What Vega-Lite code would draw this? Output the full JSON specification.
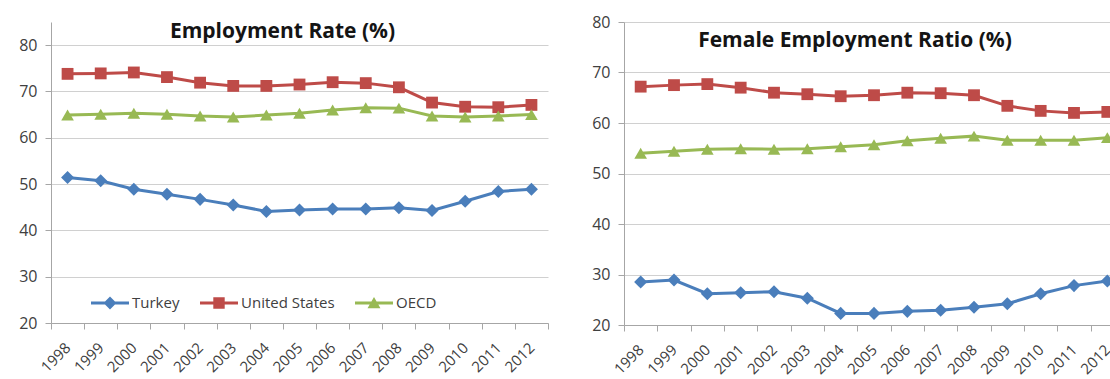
{
  "$schema": "https://vega.github.io/schema/vega-lite/v6.json",
  "background": "white",
  "padding": {"left": 18, "top": 14, "right": 0, "bottom": 0},
  "bounds": "flush",
  "spacing": 76,
  "config": {
    "view": {"stroke": null},
    "font": "Open Sans",
    "axisX": {
      "domainColor": "#a6a6a6", "tickColor": "#a6a6a6", "tickSize": 6, "tickBand": "extent",
      "labelAngle": -45, "labelAlign": "right", "labelBaseline": "middle", "labelPadding": 16,
      "labelFontSize": 15, "labelColor": "#404040", "labelFont": "Open Sans", "grid": false, "labelOverlap": false
    },
    "axisY": {
      "domainColor": "#a6a6a6", "tickColor": "#a6a6a6", "tickSize": 6, "gridColor": "#d0d0d0",
      "labelFontSize": 16, "labelColor": "#404040", "labelFont": "Open Sans", "labelPadding": 8
    },
    "legend": {
      "orient": "none", "legendX": 40, "legendY": 262, "direction": "horizontal",
      "padding": 0, "symbolSize": 1444, "symbolStrokeWidth": 0, "symbolOpacity": 1, "labelOffset": 3, "columnPadding": 20,
      "labelFont": "Open Sans", "labelFontSize": 15, "labelColor": "#404040"
    }
  },
  "resolve": {"scale": {"color": "independent", "shape": "independent"}},
  "datasets": {
    "employment": [
      {"year": "1998", "country": "Turkey", "rate": 51.4}, {"year": "1999", "country": "Turkey", "rate": 50.7},
      {"year": "2000", "country": "Turkey", "rate": 48.9}, {"year": "2001", "country": "Turkey", "rate": 47.8},
      {"year": "2002", "country": "Turkey", "rate": 46.7}, {"year": "2003", "country": "Turkey", "rate": 45.5},
      {"year": "2004", "country": "Turkey", "rate": 44.1}, {"year": "2005", "country": "Turkey", "rate": 44.4},
      {"year": "2006", "country": "Turkey", "rate": 44.6}, {"year": "2007", "country": "Turkey", "rate": 44.6},
      {"year": "2008", "country": "Turkey", "rate": 44.9}, {"year": "2009", "country": "Turkey", "rate": 44.3},
      {"year": "2010", "country": "Turkey", "rate": 46.3}, {"year": "2011", "country": "Turkey", "rate": 48.4},
      {"year": "2012", "country": "Turkey", "rate": 48.9},
      {"year": "1998", "country": "United States", "rate": 73.8}, {"year": "1999", "country": "United States", "rate": 73.9},
      {"year": "2000", "country": "United States", "rate": 74.1}, {"year": "2001", "country": "United States", "rate": 73.1},
      {"year": "2002", "country": "United States", "rate": 71.9}, {"year": "2003", "country": "United States", "rate": 71.2},
      {"year": "2004", "country": "United States", "rate": 71.2}, {"year": "2005", "country": "United States", "rate": 71.5},
      {"year": "2006", "country": "United States", "rate": 72.0}, {"year": "2007", "country": "United States", "rate": 71.8},
      {"year": "2008", "country": "United States", "rate": 70.9}, {"year": "2009", "country": "United States", "rate": 67.6},
      {"year": "2010", "country": "United States", "rate": 66.7}, {"year": "2011", "country": "United States", "rate": 66.6},
      {"year": "2012", "country": "United States", "rate": 67.1},
      {"year": "1998", "country": "OECD", "rate": 64.9}, {"year": "1999", "country": "OECD", "rate": 65.1},
      {"year": "2000", "country": "OECD", "rate": 65.3}, {"year": "2001", "country": "OECD", "rate": 65.1},
      {"year": "2002", "country": "OECD", "rate": 64.7}, {"year": "2003", "country": "OECD", "rate": 64.5},
      {"year": "2004", "country": "OECD", "rate": 64.9}, {"year": "2005", "country": "OECD", "rate": 65.3},
      {"year": "2006", "country": "OECD", "rate": 66.0}, {"year": "2007", "country": "OECD", "rate": 66.5},
      {"year": "2008", "country": "OECD", "rate": 66.4}, {"year": "2009", "country": "OECD", "rate": 64.7},
      {"year": "2010", "country": "OECD", "rate": 64.5}, {"year": "2011", "country": "OECD", "rate": 64.7},
      {"year": "2012", "country": "OECD", "rate": 65.0}
    ],
    "female": [
      {"year": "1998", "country": "Turkey", "rate": 28.5}, {"year": "1999", "country": "Turkey", "rate": 28.9},
      {"year": "2000", "country": "Turkey", "rate": 26.2}, {"year": "2001", "country": "Turkey", "rate": 26.4},
      {"year": "2002", "country": "Turkey", "rate": 26.6}, {"year": "2003", "country": "Turkey", "rate": 25.3},
      {"year": "2004", "country": "Turkey", "rate": 22.3}, {"year": "2005", "country": "Turkey", "rate": 22.3},
      {"year": "2006", "country": "Turkey", "rate": 22.7}, {"year": "2007", "country": "Turkey", "rate": 22.9},
      {"year": "2008", "country": "Turkey", "rate": 23.5}, {"year": "2009", "country": "Turkey", "rate": 24.2},
      {"year": "2010", "country": "Turkey", "rate": 26.2}, {"year": "2011", "country": "Turkey", "rate": 27.8},
      {"year": "2012", "country": "Turkey", "rate": 28.7},
      {"year": "1998", "country": "United States", "rate": 67.2}, {"year": "1999", "country": "United States", "rate": 67.5},
      {"year": "2000", "country": "United States", "rate": 67.7}, {"year": "2001", "country": "United States", "rate": 67.0},
      {"year": "2002", "country": "United States", "rate": 66.0}, {"year": "2003", "country": "United States", "rate": 65.7},
      {"year": "2004", "country": "United States", "rate": 65.3}, {"year": "2005", "country": "United States", "rate": 65.5},
      {"year": "2006", "country": "United States", "rate": 66.0}, {"year": "2007", "country": "United States", "rate": 65.9},
      {"year": "2008", "country": "United States", "rate": 65.5}, {"year": "2009", "country": "United States", "rate": 63.4},
      {"year": "2010", "country": "United States", "rate": 62.4}, {"year": "2011", "country": "United States", "rate": 62.0},
      {"year": "2012", "country": "United States", "rate": 62.2},
      {"year": "1998", "country": "OECD", "rate": 54.0}, {"year": "1999", "country": "OECD", "rate": 54.4},
      {"year": "2000", "country": "OECD", "rate": 54.8}, {"year": "2001", "country": "OECD", "rate": 54.9},
      {"year": "2002", "country": "OECD", "rate": 54.8}, {"year": "2003", "country": "OECD", "rate": 54.9},
      {"year": "2004", "country": "OECD", "rate": 55.3}, {"year": "2005", "country": "OECD", "rate": 55.7},
      {"year": "2006", "country": "OECD", "rate": 56.5}, {"year": "2007", "country": "OECD", "rate": 57.0},
      {"year": "2008", "country": "OECD", "rate": 57.4}, {"year": "2009", "country": "OECD", "rate": 56.6},
      {"year": "2010", "country": "OECD", "rate": 56.6}, {"year": "2011", "country": "OECD", "rate": 56.6},
      {"year": "2012", "country": "OECD", "rate": 57.1}
    ]
  },
  "hconcat": [
    {
      "width": 497,
      "height": 301,
      "title": {
        "text": "Employment Rate (%)", "font": "Open Sans", "fontSize": 21, "fontWeight": "bold", "color": "#141414",
        "anchor": "middle", "frame": "group", "orient": "top", "baseline": "alphabetic", "offset": -17, "dx": -17, "dy": 20
      },
      "data": {"name": "employment"},
      "encoding": {
        "x": {"field": "year", "type": "ordinal", "scale": {"type": "band", "paddingInner": 0, "paddingOuter": 0}, "axis": {"title": null}},
        "y": {"field": "rate", "type": "quantitative", "scale": {"domain": [20, 85], "nice": false, "zero": false}, "axis": {"title": null, "values": [20, 30, 40, 50, 60, 70, 80]}},
        "color": {"field": "country", "type": "nominal", "scale": {"domain": ["Turkey", "United States", "OECD"], "range": ["#4a7ebb", "#be4b48", "#98b954"]}, "legend": {"title": null}}
      },
      "layer": [
        {"mark": {"type": "line", "strokeWidth": 3}},
        {"transform": [{"filter": {"field": "country", "equal": "Turkey"}}], "mark": {"type": "point", "filled": true, "opacity": 1, "shape": "diamond", "size": 170}},
        {"transform": [{"filter": {"field": "country", "equal": "United States"}}], "mark": {"type": "point", "filled": true, "opacity": 1, "shape": "square", "size": 140}},
        {"transform": [{"filter": {"field": "country", "equal": "OECD"}}], "mark": {"type": "point", "filled": true, "opacity": 1, "shape": "triangle-up", "size": 160}},
        {
          "mark": {"type": "point", "filled": true, "opacity": 0, "size": 1444, "clip": true},
          "encoding": {
            "shape": {
              "field": "country", "type": "nominal",
              "scale": {
                "domain": ["Turkey", "United States", "OECD"],
                "range": [
                  "M-1,-0.08H1V0.08H-1ZM0,-0.34L0.34,0L0,0.34L-0.34,0Z",
                  "M-1,-0.08H1V0.08H-1ZM-0.3,-0.3H0.3V0.3H-0.3Z",
                  "M-1,-0.08H1V0.08H-1ZM0,-0.31L0.34,0.27H-0.34Z"
                ]
              },
              "legend": {"title": null}
            }
          }
        }
      ]
    },
    {
      "width": 500,
      "height": 303,
      "title": {
        "text": "Female Employment Ratio (%)", "font": "Open Sans", "fontSize": 21, "fontWeight": "bold", "color": "#141414",
        "anchor": "middle", "frame": "group", "orient": "top", "baseline": "alphabetic", "offset": -27, "dx": -19, "dy": 27
      },
      "data": {"name": "female"},
      "encoding": {
        "x": {"field": "year", "type": "ordinal", "scale": {"type": "band", "paddingInner": 0, "paddingOuter": 0}, "axis": {"title": null}},
        "y": {"field": "rate", "type": "quantitative", "scale": {"domain": [20, 80], "nice": false, "zero": false}, "axis": {"title": null, "values": [20, 30, 40, 50, 60, 70, 80]}},
        "color": {"field": "country", "type": "nominal", "scale": {"domain": ["Turkey", "United States", "OECD"], "range": ["#4a7ebb", "#be4b48", "#98b954"]}, "legend": null}
      },
      "layer": [
        {"mark": {"type": "line", "strokeWidth": 3}},
        {"transform": [{"filter": {"field": "country", "equal": "Turkey"}}], "mark": {"type": "point", "filled": true, "opacity": 1, "shape": "diamond", "size": 170}},
        {"transform": [{"filter": {"field": "country", "equal": "United States"}}], "mark": {"type": "point", "filled": true, "opacity": 1, "shape": "square", "size": 140}},
        {"transform": [{"filter": {"field": "country", "equal": "OECD"}}], "mark": {"type": "point", "filled": true, "opacity": 1, "shape": "triangle-up", "size": 160}}
      ]
    }
  ]
}
